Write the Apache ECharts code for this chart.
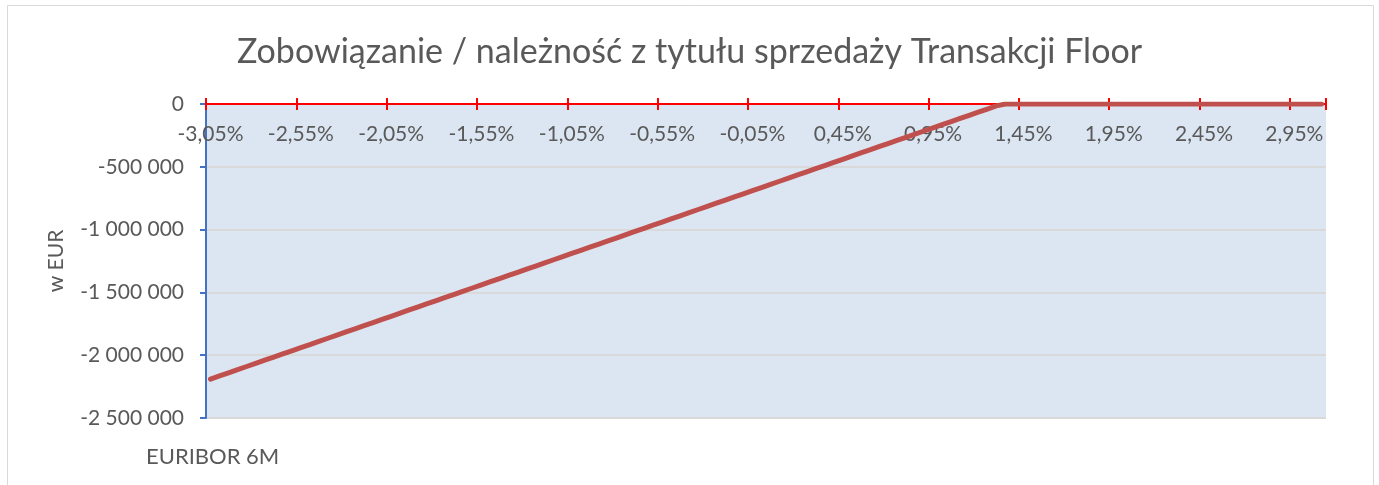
<!DOCTYPE html>
<html>
<head>
<meta charset="utf-8">
<script src="https://cdn.jsdelivr.net/npm/echarts@6/dist/echarts.min.js"></script>
<style>
html,body{margin:0;padding:0;background:#fff;}
#chart{width:1379px;height:485px;}
</style>
</head>
<body>
<div id="chart"></div>
<script>
// EURIBOR 6M levels (categories)
const categories = [
'-3,05%','-3,00%','-2,95%','-2,90%','-2,85%','-2,80%','-2,75%','-2,70%','-2,65%','-2,60%',
'-2,55%','-2,50%','-2,45%','-2,40%','-2,35%','-2,30%','-2,25%','-2,20%','-2,15%','-2,10%',
'-2,05%','-2,00%','-1,95%','-1,90%','-1,85%','-1,80%','-1,75%','-1,70%','-1,65%','-1,60%',
'-1,55%','-1,50%','-1,45%','-1,40%','-1,35%','-1,30%','-1,25%','-1,20%','-1,15%','-1,10%',
'-1,05%','-1,00%','-0,95%','-0,90%','-0,85%','-0,80%','-0,75%','-0,70%','-0,65%','-0,60%',
'-0,55%','-0,50%','-0,45%','-0,40%','-0,35%','-0,30%','-0,25%','-0,20%','-0,15%','-0,10%',
'-0,05%','0,00%','0,05%','0,10%','0,15%','0,20%','0,25%','0,30%','0,35%','0,40%',
'0,45%','0,50%','0,55%','0,60%','0,65%','0,70%','0,75%','0,80%','0,85%','0,90%',
'0,95%','1,00%','1,05%','1,10%','1,15%','1,20%','1,25%','1,30%','1,35%','1,40%',
'1,45%','1,50%','1,55%','1,60%','1,65%','1,70%','1,75%','1,80%','1,85%','1,90%',
'1,95%','2,00%','2,05%','2,10%','2,15%','2,20%','2,25%','2,30%','2,35%','2,40%',
'2,45%','2,50%','2,55%','2,60%','2,65%','2,70%','2,75%','2,80%','2,85%','2,90%',
'2,95%','3,00%','3,05%','3,10%'
];

// Liability / receivable value in EUR
const values = [
-2190000,-2165000,-2140000,-2115000,-2090000,-2065000,-2040000,-2015000,-1990000,-1965000,
-1940000,-1915000,-1890000,-1865000,-1840000,-1815000,-1790000,-1765000,-1740000,-1715000,
-1690000,-1665000,-1640000,-1615000,-1590000,-1565000,-1540000,-1515000,-1490000,-1465000,
-1440000,-1415000,-1390000,-1365000,-1340000,-1315000,-1290000,-1265000,-1240000,-1215000,
-1190000,-1165000,-1140000,-1115000,-1090000,-1065000,-1040000,-1015000,-990000,-965000,
-940000,-915000,-890000,-865000,-840000,-815000,-790000,-765000,-740000,-715000,
-690000,-665000,-640000,-615000,-590000,-565000,-540000,-515000,-490000,-465000,
-440000,-415000,-390000,-365000,-340000,-315000,-290000,-265000,-240000,-215000,
-190000,-165000,-140000,-115000,-90000,-65000,-40000,-15000,0,0,
0,0,0,0,0,0,0,0,0,0,
0,0,0,0,0,0,0,0,0,0,
0,0,0,0,0,0,0,0,0,0,
0,0,0,0
];

const titleText = 'Zobowiązanie / należność z tytułu sprzedaży Transakcji Floor';
const yAxisName = 'w EUR';
const xAxisName = 'EURIBOR 6M';
const yMin = -2500000, yMax = 0, yStep = 500000;

const FONT = 'Lato, "Open Sans", sans-serif';
const TXT = '#595959';

function fmtY(v){
  const s = Math.abs(v).toString().replace(/\B(?=(\d{3})+(?!\d))/g, ' ');
  return (v < 0 ? '-' : '') + s;
}

const chart = echarts.init(document.getElementById('chart'), null, {renderer:'canvas'});
chart.setOption({
  animation:false,
  backgroundColor:'#ffffff',
  title:{
    text:titleText, left:'center', top:30,
    textStyle:{fontFamily:FONT, fontSize:34, fontWeight:'normal', color:TXT}
  },
  grid:{
    left:206, right:53, top:104, bottom:67, containLabel:false,
    show:true, backgroundColor:'#DCE6F2', borderWidth:0
  },
  graphic:[
    {type:'rect', shape:{x:7.5, y:5.5, width:1366, height:500}, style:{fill:'none', stroke:'#D9D9D9', lineWidth:1}, z:-1},
    {type:'text', left:146, top:446, style:{text:xAxisName, font:'22px ' + FONT, fill:TXT}}
  ],
  xAxis:[
    {
      type:'category', data:categories, position:'top', boundaryGap:true,
      axisLine:{show:true, onZero:false, lineStyle:{color:'#FF0000', width:2}},
      axisTick:{show:true, interval:9, length:6, inside:false, lineStyle:{color:'#FF0000', width:2}},
      axisLabel:{show:true, inside:true, interval:9, margin:20, color:TXT, fontFamily:FONT, fontSize:21},
      splitLine:{show:false}
    },
    {
      type:'category', data:categories, position:'top', boundaryGap:true,
      axisLine:{show:false},
      axisTick:{show:true, interval:9, length:6, inside:true, lineStyle:{color:'#FF0000', width:2}},
      axisLabel:{show:false},
      splitLine:{show:false}
    }
  ],
  yAxis:{
    type:'value', min:yMin, max:yMax, interval:yStep,
    name:yAxisName, nameLocation:'middle', nameGap:139, nameRotate:90,
    nameTextStyle:{color:TXT, fontFamily:FONT, fontSize:21},
    axisLine:{show:true, lineStyle:{color:'#4472C4', width:2}},
    axisTick:{show:true, length:6, lineStyle:{color:'#4472C4', width:2}},
    axisLabel:{color:TXT, fontFamily:FONT, fontSize:21, margin:22, formatter:fmtY},
    splitLine:{show:true, lineStyle:{color:'#D9D9D9', width:2}}
  },
  series:[{
    type:'line', data:values, xAxisIndex:0, showSymbol:false, symbol:'none',
    lineStyle:{color:'#C0504D', width:5, cap:'round', join:'round'},
    z:3
  }]
});
</script>
</body>
</html>
